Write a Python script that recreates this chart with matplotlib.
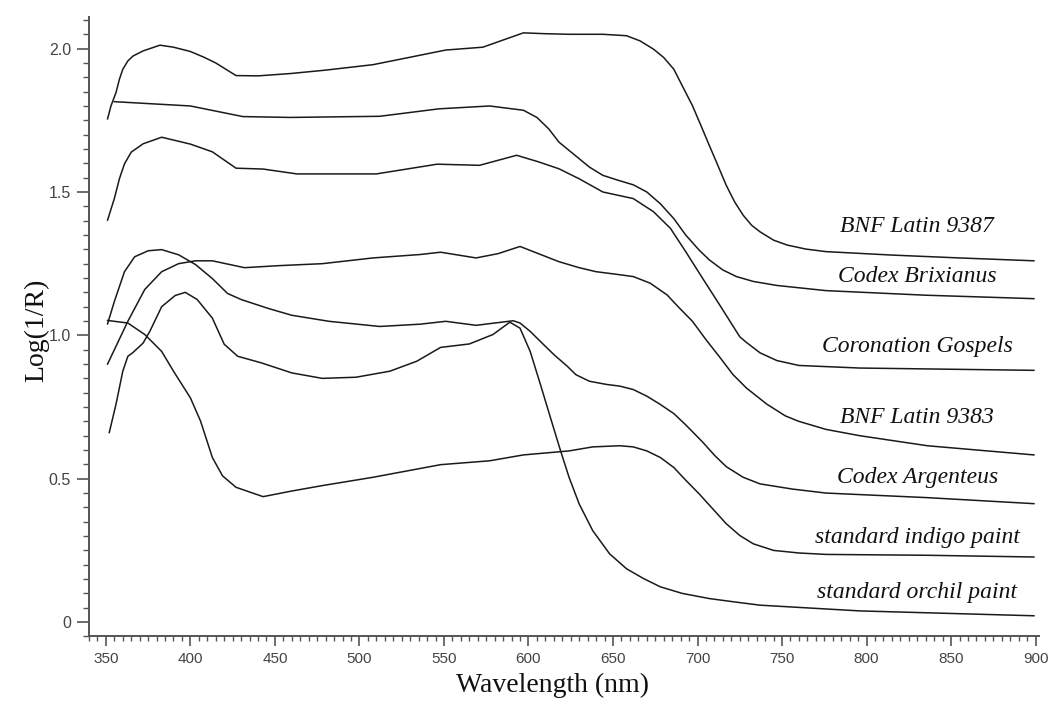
import matplotlib
matplotlib.use('Agg')
import matplotlib.pyplot as plt
from matplotlib.ticker import MultipleLocator

# spectra (wavelength nm, log(1/R))
bnf9387_wl = [351, 353, 356, 358, 360, 363, 366, 372, 382, 390, 400, 408, 415, 421, 427, 440, 459, 480,
              508, 530, 551, 573, 585, 597, 610, 624, 644, 658, 666, 674, 680, 686, 691, 697, 702, 707,
              712, 717, 722, 727, 732, 737, 745, 753, 764, 776, 815, 855, 899]
bnf9387 = [1.755, 1.80, 1.847, 1.893, 1.928, 1.957, 1.974, 1.992, 2.012, 2.005, 1.99, 1.97, 1.95, 1.928,
           1.906, 1.905, 1.913, 1.925, 1.944, 1.97, 1.995, 2.005, 2.03, 2.055, 2.052, 2.05, 2.05, 2.045,
           2.027, 1.998, 1.969, 1.928, 1.870, 1.801, 1.732, 1.662, 1.593, 1.523, 1.465, 1.419, 1.384,
           1.361, 1.332, 1.315, 1.301, 1.292, 1.28, 1.27, 1.26]

brix_wl = [355, 370, 400, 431, 459, 512, 547, 577, 597, 605, 612, 618, 624, 630, 636, 644, 653, 662,
           670, 678, 686, 693, 701, 707, 715, 723, 733, 747, 776, 835, 899]
brix = [1.815, 1.81, 1.80, 1.763, 1.76, 1.764, 1.79, 1.80, 1.785, 1.76, 1.72, 1.674, 1.645, 1.616,
        1.587, 1.558, 1.541, 1.525, 1.50, 1.459, 1.407, 1.350, 1.297, 1.263, 1.228, 1.205, 1.188,
        1.174, 1.156, 1.14, 1.128]

coron_wl = [351, 355, 358, 361, 365, 372, 383, 400, 413, 427, 443, 463, 510, 546, 571, 593, 606, 618,
            630, 644, 662, 674, 684, 693, 703, 713, 725, 729, 737, 747, 760, 796, 899]
coron = [1.402, 1.477, 1.546, 1.598, 1.639, 1.668, 1.691, 1.667, 1.64, 1.583, 1.58, 1.563, 1.563,
         1.597, 1.593, 1.628, 1.605, 1.581, 1.546, 1.50, 1.477, 1.431, 1.373, 1.292, 1.199, 1.107,
         0.995, 0.975, 0.939, 0.912, 0.895, 0.886, 0.878]

bnf9383_wl = [351, 363, 373, 383, 393, 403, 413, 432, 452, 478, 508, 536, 548, 569, 582, 595, 618,
              630, 640, 652, 662, 672, 682, 689, 697, 705, 713, 721, 729, 741, 752, 760, 776, 796,
              836, 899]
bnf9383 = [0.90, 1.049, 1.16, 1.222, 1.25, 1.26, 1.26, 1.236, 1.243, 1.25, 1.27, 1.282, 1.29, 1.27,
           1.285, 1.31, 1.257, 1.236, 1.222, 1.213, 1.205, 1.182, 1.141, 1.097, 1.049, 0.985, 0.925,
           0.863, 0.816, 0.76, 0.719, 0.70, 0.672, 0.65, 0.615, 0.583]

argent_wl = [351, 355, 361, 367, 375, 383, 393, 403, 413, 422, 430, 446, 460, 482, 512, 536, 551,
             569, 591, 595, 601, 607, 615, 623, 628, 636, 646, 654, 662, 670, 678, 686, 693, 703, 710,
             717, 727, 737, 756, 776, 836, 899]
argent = [1.04, 1.118, 1.222, 1.274, 1.295, 1.299, 1.281, 1.247, 1.198, 1.146, 1.125, 1.094, 1.07,
          1.049, 1.031, 1.039, 1.049, 1.035, 1.051, 1.043, 1.014, 0.979, 0.933, 0.892, 0.863, 0.84,
          0.829, 0.823, 0.811, 0.788, 0.759, 0.727, 0.688, 0.628, 0.582, 0.542, 0.505, 0.482, 0.464,
          0.45, 0.434, 0.413]

indigo_wl = [351, 363, 373, 383, 390, 400, 406, 413, 419, 427, 443, 459, 478, 508, 548, 577, 597,
             624, 638, 654, 662, 670, 678, 686, 693, 701, 709, 717, 725, 733, 745, 760, 776, 836, 899]
indigo = [1.052, 1.043, 1.003, 0.944, 0.875, 0.782, 0.701, 0.574, 0.51, 0.47, 0.4375, 0.456, 0.476,
          0.505, 0.549, 0.5625, 0.583, 0.597, 0.611, 0.615, 0.611, 0.597, 0.574, 0.539, 0.495, 0.447,
          0.395, 0.343, 0.302, 0.273, 0.25, 0.241, 0.236, 0.233, 0.227]

orchil_wl = [352, 356, 360, 363, 366, 372, 376, 383, 391, 397, 404, 413, 420, 428, 442, 460, 478,
             498, 518, 534, 548, 565, 579, 589, 595, 601, 607, 613, 619, 624, 630, 638, 648, 658,
             668, 678, 691, 707, 721, 737, 796, 899]
orchil = [0.661, 0.76, 0.875, 0.927, 0.94, 0.973, 1.014, 1.10, 1.139, 1.15, 1.125, 1.06, 0.969,
          0.927, 0.904, 0.869, 0.85, 0.854, 0.875, 0.91, 0.958, 0.97, 1.003, 1.046, 1.025, 0.944,
          0.83, 0.713, 0.597, 0.505, 0.412, 0.319, 0.238, 0.186, 0.152, 0.123, 0.10, 0.082, 0.071,
          0.059, 0.039, 0.022]

labels = ['BNF Latin 9387', 'Codex Brixianus', 'Coronation Gospels', 'BNF Latin 9383',
          'Codex Argenteus', 'standard indigo paint', 'standard orchil paint']
label_y = [1.378, 1.205, 0.962, 0.712, 0.503, 0.295, 0.104]
label_x = 830

y_ticks = [0, 0.5, 1.0, 1.5, 2.0]
y_ticklabels = ['0', '0.5', '1.0', '1.5', '2.0']
x_ticks = list(range(350, 901, 50))

fig = plt.figure(figsize=(10.48, 7.03), dpi=100)
ax = fig.add_axes([0.0849, 0.0947, 0.9065, 0.881])

series = [(bnf9387_wl, bnf9387), (brix_wl, brix), (coron_wl, coron), (bnf9383_wl, bnf9383),
          (argent_wl, argent), (indigo_wl, indigo), (orchil_wl, orchil)]
for wl, val in series:
    ax.plot(wl, val, color='#1a1a1a', linewidth=1.1, solid_joinstyle='round')

for name, ly in zip(labels, label_y):
    ax.text(label_x, ly, name, ha='center', va='center', fontsize=17,
            family='Liberation Serif', style='italic', color='#111111')

ax.set_xlim(340, 902)
ax.set_ylim(-0.05, 2.11)
ax.set_xticks(x_ticks)
ax.xaxis.set_minor_locator(MultipleLocator(5))
ax.set_yticks(y_ticks)
ax.set_yticklabels(y_ticklabels)
ax.yaxis.set_minor_locator(MultipleLocator(0.05))

for s in ['top', 'right']:
    ax.spines[s].set_visible(False)
for s in ['left', 'bottom']:
    ax.spines[s].set_color('#555555')
    ax.spines[s].set_linewidth(1.4)

ax.tick_params(axis='x', which='major', length=7, width=1.2, color='#555555', direction='out',
               labelsize=11, labelcolor='#444444', pad=4)
ax.tick_params(axis='x', which='minor', length=3.5, width=1.0, color='#555555', direction='out')
ax.tick_params(axis='y', which='major', length=9, width=1.2, color='#555555', direction='out',
               labelsize=11.5, labelcolor='#444444', pad=4)
ax.tick_params(axis='y', which='minor', length=4, width=1.0, color='#555555', direction='out')
for t in ax.get_xticklabels() + ax.get_yticklabels():
    t.set_family('Liberation Sans')

fig.text(0.527, 0.025, 'Wavelength (nm)', ha='center', va='center', fontsize=20,
         family='Liberation Serif', color='#111111')
fig.text(0.035, 0.53, 'Log(1/R)', ha='center', va='center', rotation=90, fontsize=20,
         family='Liberation Serif', color='#111111')

fig.savefig('out.png', dpi=100)
plt.close(fig)
